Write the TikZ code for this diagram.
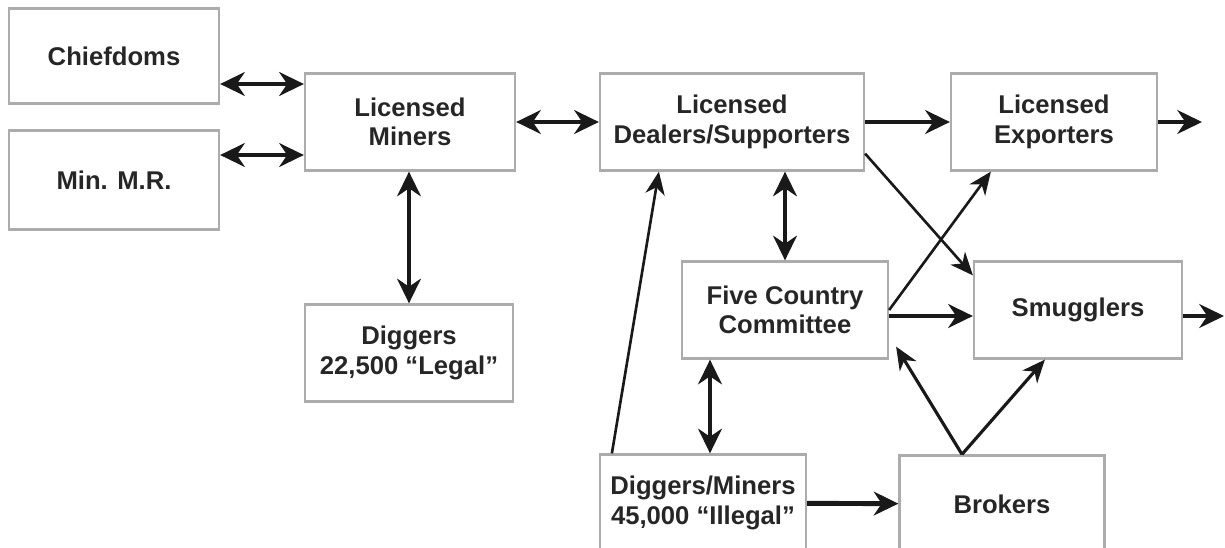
\documentclass[tikz,border=0pt]{standalone}
\usepackage{fontspec}
\setmainfont{Liberation Sans}
\usetikzlibrary{arrows.meta, calc}

\begin{document}
\begin{tikzpicture}[x=0.02cm, y=-0.02cm, >={Stealth[length=14pt, width=13.5pt, inset=4.5pt]},
	block/.style={draw=gray!65, line width=1.3pt, minimum width=4.2cm, minimum height=1.94cm, align=center, inner sep=2pt, font=\fontsize{14.6}{16.8}\selectfont\bfseries, text=black!85},
	heavy/.style={->, line width=2.8pt, draw=black!90},
	both/.style={heavy, <->},
	light/.style={-{Stealth[length=13pt, width=11pt, inset=4pt]}, line width=1.5pt, draw=black!90}]
		\useasboundingbox (0,0) rectangle (1225,548);
		\clip (0,0) rectangle (1225,548);
		
		\node[block, minimum height=1.9cm] (chief) at (114,56) {Chiefdoms};
		\node[block, minimum height=1.98cm] (minmr) at (114,180) {Min. M.R.};
		\node[block] (lminers) at (410,122) {Licensed\\Miners};
		\node[block, minimum width=5.28cm] (dealers) at (732,122) {Licensed\\Dealers/Supporters};
		\node[block, minimum width=4.12cm] (exporters) at (1054,122) {Licensed\\Exporters};
		\node[block, minimum width=4.12cm] (five) at (785,310) {Five Country\\Committee};
		\node[block, minimum width=4.16cm] (smug) at (1078,310) {Smugglers};
		\node[block, minimum width=4.16cm] (dlegal) at (409,353) {Diggers\\22,500 “Legal”};
		\node[block, minimum width=4.12cm] (dillegal) at (703,503) {Diggers/Miners\\45,000 “Illegal”};
		\node[block, minimum width=4.1cm] (brokers) at (1002,504) {Brokers};
		
		% free ends and side points
		\coordinate (exout) at (1202,122);
		\coordinate (smout) at (1224,316);
		\path ($(chief.east)+(0,28)$) coordinate (c1)
			($(minmr.east)+(0,-25)$) coordinate (c2)
			($(five.south)+(-75,0)$) coordinate (c3)
			($(five.east)+(0,6)$) coordinate (c4)
			($(brokers.north)+(-40,0)$) coordinate (bk);
		
		\draw[both] (c1) -- (c1 -| lminers.west);
		\draw[both] (c2) -- (c2 -| lminers.west);
		\draw[both] (lminers) -- (dealers);
		\draw[both] (dlegal.north) -- (dlegal.north |- lminers.south);
		\draw[both] (dealers.south -| five.north) -- (five.north);
		\draw[both] (c3) -- (c3 |- dillegal.north);
		
		\draw[heavy] (dealers) -- (exporters);
		\draw[heavy] (exporters) -- (exout);
		\draw[heavy] (c4) -- (c4 -| smug.west);
		\draw[heavy] (c4 -| smug.east) -- (smout);
		\draw[heavy] (dillegal) -- (brokers);
		\draw[light, line width=1.8pt] (bk) -- ($(five.south east)+(7,-13)$);
		\draw[light, line width=1.8pt] (bk) -- ($(smug.south west)+(72,0)$);
		
		\draw[light] ($(dealers.south east)+(0,-18)$) -- ($(smug.north west)+(0,15)$);
		\draw[light] (five.east) -- ($(exporters.south west)+(41,0)$);
		\draw[light] ($(dillegal.north west)+(13,0)$) -- ($(dealers.south west)+(60,0)$);
		
	\end{tikzpicture}
\end{document}
